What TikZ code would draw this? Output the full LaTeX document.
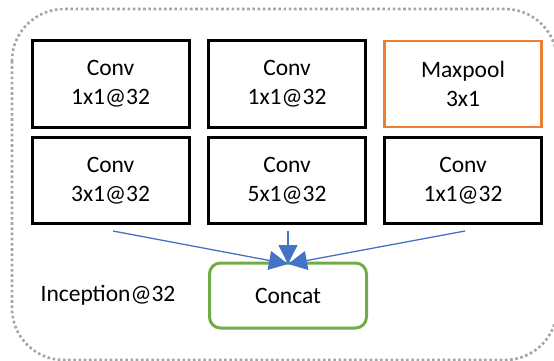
\documentclass[tikz,border=0pt]{standalone}
\usepackage{fontspec}
\setmainfont{Carlito}
\usetikzlibrary{arrows.meta}
\definecolor{bordergray}{HTML}{A5A5A5}
\definecolor{orng}{HTML}{ED7D31}
\definecolor{grn}{HTML}{70AD47}
\definecolor{blu}{HTML}{4472C4}
\begin{document}
\begin{tikzpicture}[x=1pt,y=-1pt,
  lbl/.style={font=\fontsize{23.5}{29}\selectfont, align=center},
  convbox/.style={draw=black, line width=3pt, minimum width=157pt, minimum height=86pt, inner sep=0pt, lbl},
  poolbox/.style={draw=orng, line width=2.5pt, minimum width=157pt, minimum height=86pt, inner sep=0pt, lbl},
  catbox/.style={draw=grn, line width=3pt, rounded corners=11pt, minimum width=157pt, minimum height=65pt, inner sep=0pt, lbl},
  conn/.style={draw=blu, line width=1.3pt, -{Triangle[length=19pt,width=19pt]}}]
\useasboundingbox (0,0) rectangle (554,361);
\draw[bordergray, line width=2.6pt, dash pattern=on 2.6pt off 2.6pt, rounded corners=52pt] (12,9) rectangle (557,360);
\node[convbox] (c1) at (110.5,84) {Conv\\1x1@32};
\node[convbox] (c2) at (287,84) {Conv\\1x1@32};
\node[poolbox] (mp) at (463,84) {Maxpool\\3x1};
\node[convbox] (c3) at (110.5,180.5) {Conv\\3x1@32};
\node[convbox] (c4) at (287,180.5) {Conv\\5x1@32};
\node[convbox] (c5) at (463,180.5) {Conv\\1x1@32};
\node[catbox] (cat) at (288,295.5) {Concat};
\node[lbl, inner sep=0pt] (inc) at (108,295) {Inception@32};
\coordinate (s1) at (113,231);
\coordinate (s2) at (288,231);
\coordinate (s3) at (465,231);
\coordinate (tip) at (288,264);
\draw[conn] (s1) -- (tip);
\draw[conn] (s2) -- (tip);
\draw[conn] (s3) -- (tip);
\end{tikzpicture}
\end{document}
